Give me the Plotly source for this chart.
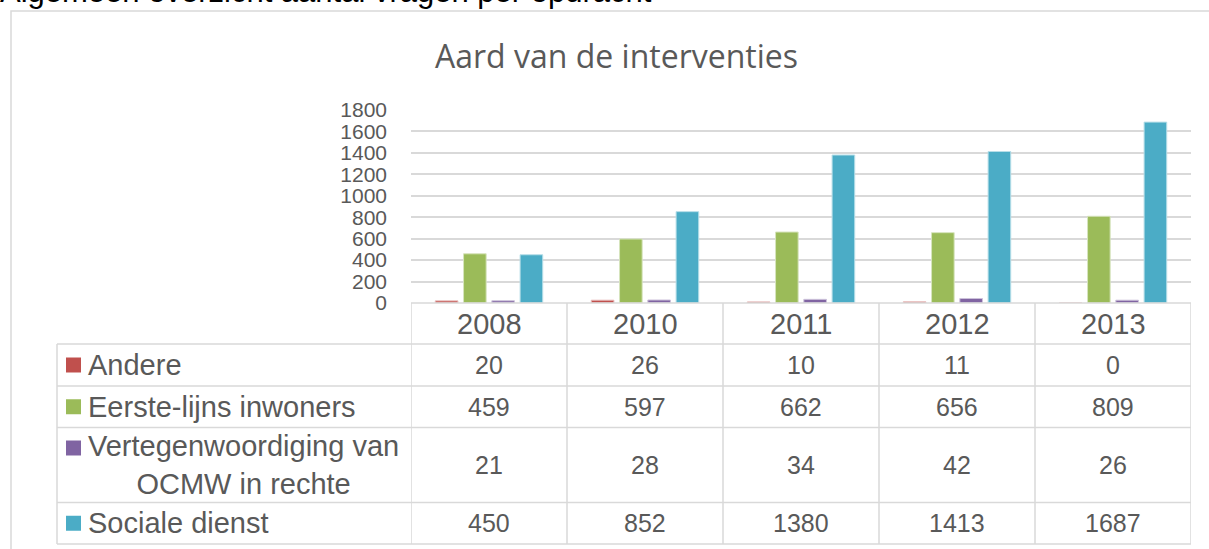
import plotly.graph_objects as go

W, H = 1209, 549

years = ['2008', '2010', '2011', '2012', '2013']
series_names = ['Andere', 'Eerste-lijns inwoners', 'Vertegenwoordiging van<br>OCMW in rechte', 'Sociale dienst']
andere = [20, 26, 10, 11, 0]
eerste_lijns = [459, 597, 662, 656, 809]
vertegenwoordiging = [21, 28, 34, 42, 26]
sociale_dienst = [450, 852, 1380, 1413, 1687]

all_series = [andere, eerste_lijns, vertegenwoordiging, sociale_dienst]
colors = ['#C0504D', '#9BBB59', '#8064A2', '#4BACC6']
edge_colors = ['#E6B9B8', '#D7E4BD', '#CCC1DA', '#B7DEE8']

grey = '#595959'
grid = '#D9D9D9'
font_main = 'Liberation Sans, Arial, sans-serif'

# table geometry in pixels (from top of the page)
plot_left, plot_right = 411, 1191
plot_top, plot_bottom = 110, 303
table_left = 57
row_lines = [344, 386, 427.5, 502.5, 544]


def px_x(p):
    return p / W


def px_y(p):
    return 1 - p / H


fig = go.Figure()

for name, vals, c, ec in zip(series_names, all_series, colors, edge_colors):
    fig.add_trace(go.Bar(
        x=years,
        y=vals,
        name=name.replace('<br>', ' '),
        marker=dict(color=c, line=dict(color=ec, width=1)),
        showlegend=False
    ))

shapes = []
annotations = []

# outer chart frame
shapes.append(dict(type='rect', xref='paper', yref='paper',
                   x0=px_x(11), x1=1.02, y0=-0.05, y1=px_y(11),
                   line=dict(color=grid, width=1.5), layer='below'))

# table horizontal lines
shapes.append(dict(type='line', xref='paper', yref='paper',
                   x0=px_x(plot_left), x1=px_x(plot_right),
                   y0=px_y(plot_bottom), y1=px_y(plot_bottom),
                   line=dict(color=grid, width=1.5)))
for yl in row_lines:
    shapes.append(dict(type='line', xref='paper', yref='paper',
                       x0=px_x(table_left), x1=px_x(plot_right),
                       y0=px_y(yl), y1=px_y(yl),
                       line=dict(color=grid, width=1.5)))

# table vertical lines: left edge plus category boundaries on the x axis
shapes.append(dict(type='line', xref='paper', yref='paper',
                   x0=px_x(table_left), x1=px_x(table_left),
                   y0=px_y(row_lines[0]), y1=px_y(row_lines[-1]),
                   line=dict(color=grid, width=1.5)))
for j in range(len(years) + 1):
    shapes.append(dict(type='line', xref='x', yref='paper',
                       x0=j - 0.5, x1=j - 0.5,
                       y0=px_y(plot_bottom), y1=px_y(row_lines[-1]),
                       line=dict(color=grid, width=1.5)))

# header with years
for j, yr in enumerate(years):
    annotations.append(dict(text=yr, xref='x', yref='paper',
                            x=j, y=px_y((plot_bottom + row_lines[0]) / 2),
                            xanchor='center', yanchor='middle',
                            showarrow=False,
                            font=dict(family=font_main, size=29, color=grey)))

# rows: legend key, label, values
for i, (name, vals, c) in enumerate(zip(series_names, all_series, colors)):
    top, bot = row_lines[i], row_lines[i + 1]
    yc = (top + bot) / 2
    key_y = yc if '<br>' not in name else top + 20.5
    shapes.append(dict(type='rect', xref='paper', yref='paper',
                       x0=px_x(66), x1=px_x(81),
                       y0=px_y(key_y + 7.5), y1=px_y(key_y - 7.5),
                       fillcolor=c, line=dict(width=0)))
    annotations.append(dict(text=name, xref='paper', yref='paper',
                            x=px_x(86), y=px_y(yc),
                            xanchor='left', yanchor='middle',
                            align='center', showarrow=False,
                            font=dict(family=font_main, size=29, color=grey)))
    for j, v in enumerate(vals):
        annotations.append(dict(text=str(v), xref='x', yref='paper',
                                x=j, y=px_y(yc),
                                xanchor='center', yanchor='middle',
                                showarrow=False,
                                font=dict(family=font_main, size=25, color=grey)))

annotations.append(dict(
    text='Aard van de interventies',
    xref='paper', yref='paper',
    x=px_x(616), y=px_y(56), xanchor='center', yanchor='middle',
    showarrow=False,
    font=dict(family='Open Sans', size=32, color=grey)
))
annotations.append(dict(
    text='Algemeen overzicht aantal vragen per opdracht',
    xref='paper', yref='paper',
    x=0, y=1, xanchor='left', yanchor='bottom', yshift=-11, xshift=-2,
    showarrow=False,
    font=dict(family=font_main, size=31, color='black')
))

fig.update_layout(
    width=W,
    height=H,
    margin=dict(l=0, r=0, t=0, b=0, autoexpand=False),
    paper_bgcolor='white',
    plot_bgcolor='white',
    barmode='group',
    bargap=0.275,
    bargroupgap=0.2,
    xaxis=dict(
        type='category',
        domain=[px_x(plot_left), px_x(plot_right)],
        range=[-0.5, len(years) - 0.5],
        showticklabels=False,
        showgrid=False,
        showline=False,
        zeroline=False,
        ticks=''
    ),
    yaxis=dict(
        domain=[px_y(plot_bottom), px_y(plot_top)],
        range=[0, 1800],
        dtick=200,
        showgrid=True,
        gridcolor=grid,
        gridwidth=1.5,
        zeroline=False,
        showline=False,
        ticks='',
        ticklabelstandoff=23,
        tickfont=dict(family=font_main, size=21, color=grey)
    ),
    shapes=shapes,
    annotations=annotations
)

# the page body has a default 8px margin; remove it so the figure fills the window
fig.write_html('out.html', config={'displayModeBar': False},
               post_script="document.body.style.margin='0';")
